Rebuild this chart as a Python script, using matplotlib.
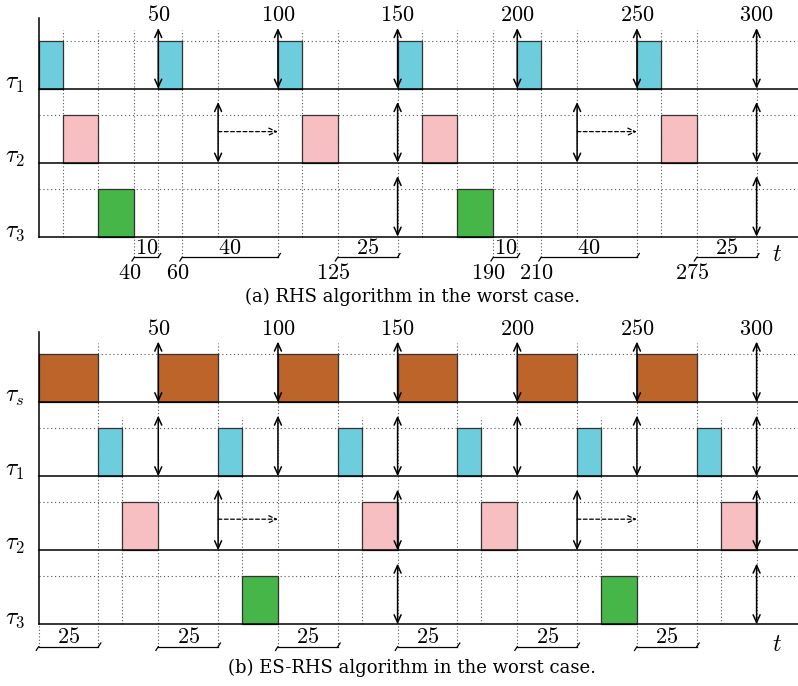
import matplotlib
matplotlib.use("Agg")
import matplotlib.pyplot as plt

plt.rcParams['mathtext.fontset'] = 'cm'

# time ticks printed above each panel
ticks = [50, 100, 150, 200, 250, 300]

# (a) RHS
a_rows = [r'$\tau_1$', r'$\tau_2$', r'$\tau_3$']
a_boxes = [
    [(0, 10), (50, 60), (100, 110), (150, 160), (200, 210), (250, 260)],
    [(10, 25), (110, 125), (160, 175), (260, 275)],
    [(25, 40), (175, 190)],
]
a_arrows = [[50, 100, 150, 200, 250, 300], [75, 150, 225, 300], [150, 300]]
a_dashed = [(75, 100), (225, 250)]          # in tau2 row
a_brackets = [(40, 50, '10'), (60, 100, '40'), (125, 150, '25'),
              (190, 200, '10'), (210, 250, '40'), (275, 300, '25')]
a_marks = [40, 60, 125, 190, 210, 275]
a_late = []                                  # dotted lines that start lower down

# (b) ES-RHS
b_rows = [r'$\tau_s$', r'$\tau_1$', r'$\tau_2$', r'$\tau_3$']
b_boxes = [
    [(0, 25), (50, 75), (100, 125), (150, 175), (200, 225), (250, 275)],
    [(25, 35), (75, 85), (125, 135), (175, 185), (225, 235), (275, 285)],
    [(35, 50), (135, 150), (185, 200), (285, 300)],
    [(85, 100), (235, 250)],
]
b_arrows = [[50, 100, 150, 200, 250, 300], [50, 100, 150, 200, 250, 300],
            [75, 150, 225, 300], [150, 300]]
b_dashed = [(75, 100), (225, 250)]
b_brackets = [(0, 25, '25'), (50, 75, '25'), (100, 125, '25'),
              (150, 175, '25'), (200, 225, '25'), (250, 275, '25')]
b_marks = []
b_late = [35, 85, 135, 185, 235, 285]

colors = {r'$\tau_s$': '#bc6429', r'$\tau_1$': '#6ecddd',
          r'$\tau_2$': '#f8bfc2', r'$\tau_3$': '#47b649'}

H = 0.65
XMIN, XMAX = -16.13, 317.3


def draw_panel(ax, rows, boxes, arrows, dashed, brackets, marks, late, br_y, caption, cap_y):
    n = len(rows)
    base = [n - 1 - i for i in range(n)]
    ax.set_xlim(XMIN, XMAX)
    ax.axis('off')

    # dotted grid
    times = set()
    for r in boxes:
        for s, e in r:
            times.update([s, e])
    for r in arrows:
        times.update(r)
    for s, e, _ in brackets:
        times.update([s, e])
    br_ends = set()
    for s, e, _ in brackets:
        br_ends.update([s, e])
    for t in sorted(times):
        top = base[1] + 0.8 if t in late else base[0] + 0.8
        if t == 0:
            top = 0
        bot = br_y if t in br_ends else 0
        ax.plot([t, t], [bot, top], color='#555555', lw=0.8,
                linestyle=(0, (1, 2)), zorder=1)
    for b in base:
        ax.plot([0, XMAX], [b + H, b + H], color='#555555', lw=0.8,
                linestyle=(0, (1, 2.5)), zorder=1)

    for i in range(n):
        for s, e in boxes[i]:
            ax.bar(s, H, width=e - s, bottom=base[i], align='edge',
                   color=colors[rows[i]], edgecolor='#333333', lw=0.9, zorder=2)
        ax.plot([0, XMAX], [base[i], base[i]], color='black', lw=1.1, zorder=3)
        ax.text(-9.9, base[i], rows[i], fontsize=17, ha='center', va='baseline')
        for t in arrows[i]:
            ax.annotate('', xy=(t, base[i]), xytext=(t, base[i] + 0.82),
                        arrowprops=dict(arrowstyle='<->,head_length=0.55,head_width=0.25',
                                        lw=1.1, color='black', shrinkA=0, shrinkB=0),
                        zorder=4)
    r2 = base[rows.index(r'$\tau_2$')]
    for s, e in dashed:
        ax.annotate('', xy=(e, r2 + 0.42), xytext=(s, r2 + 0.42),
                    arrowprops=dict(arrowstyle='->,head_length=0.55,head_width=0.25',
                                    lw=0.9, color='black', linestyle=(0, (3, 2)),
                                    shrinkA=0, shrinkB=0), zorder=4)

    ax.plot([0, 0], [0, base[0] + 0.95], color='black', lw=1.1, zorder=3)
    for t in ticks:
        ax.text(t, base[0] + 0.99, f'${t}$', fontsize=16, ha='center', va='center')

    for s, e, lab in brackets:
        ax.plot([s, e], [br_y, br_y], color='black', lw=0.9)
        ax.plot([s - 1.0, s], [br_y - 0.05, br_y], color='black', lw=0.9)
        ax.plot([e, e + 1.0], [br_y, br_y + 0.05], color='black', lw=0.9)
        ax.text((s + e) / 2, br_y + 0.13, f'${lab}$', fontsize=16, ha='center', va='center')
    for m in marks:
        ax.text(m - 2, -0.485, f'${m}$', fontsize=16, ha='center', va='center')
    ax.text(308.4, br_y + 0.04, '$t$', fontsize=17, ha='center', va='center')
    ax.text(156.2, cap_y, caption, fontsize=13, family='DejaVu Serif',
            ha='center', va='center')


fig = plt.figure(figsize=(7.98, 6.86), dpi=100)
ax_a = fig.add_axes([0, 372 / 686, 1, 314 / 686])
ax_a.set_ylim(-1.045, 3.199)
draw_panel(ax_a, a_rows, a_boxes, a_arrows, a_dashed, a_brackets, a_marks, a_late,
           -0.278, '(a) RHS algorithm in the worst case.', -0.815)

ax_b = fig.add_axes([0, 0, 1, 372 / 686])
ax_b.set_ylim(-0.834, 4.193)
draw_panel(ax_b, b_rows, b_boxes, b_arrows, b_dashed, b_brackets, b_marks, b_late,
           -0.303, '(b) ES-RHS algorithm in the worst case.', -0.59)

fig.savefig('out.png', dpi=100)
